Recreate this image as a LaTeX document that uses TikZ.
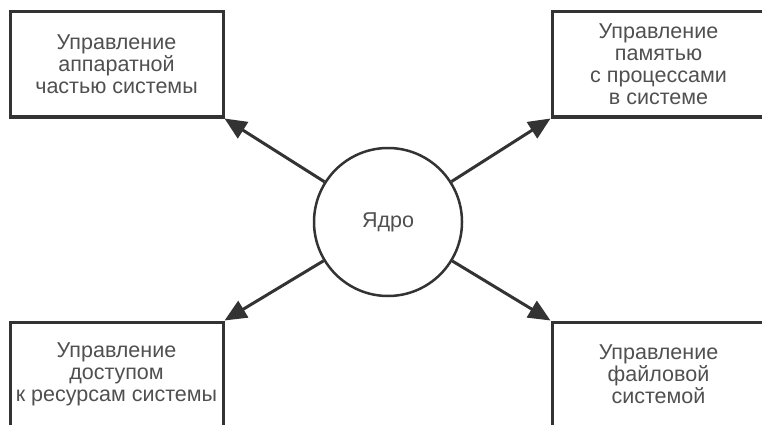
\documentclass[tikz,border=0pt]{standalone}
\usepackage{fontspec}
\setmainfont{Liberation Sans}
\usetikzlibrary{arrows.meta}
\definecolor{linec}{HTML}{333333}
\definecolor{textc}{HTML}{505050}
\begin{document}
\begin{tikzpicture}[x=1pt,y=-1pt,
  box/.style={draw=linec, line width=3pt, minimum width=213pt, minimum height=105pt,
    inner sep=0pt, align=center, text=textc, font=\fontsize{21.5}{22}\selectfont},
  core/.style={circle, draw=linec, line width=2.5pt, minimum size=148pt, inner sep=0pt,
    text=textc, font=\fontsize{21.5}{22}\selectfont},
  arr/.style={draw=linec, line width=3pt, -{Triangle[length=22pt,width=19pt]}}]
\useasboundingbox (0,0) rectangle (762,425);
\fill[white] (0,0) rectangle (762,425);
\clip (0,0) rectangle (762,425);
\node[box] (tl) at (116.5,64.5) {Управление\\аппаратной\\частью системы};
\node[box] (tr) at (658.5,64.5) {Управление\\памятью\\с процессами\\в системе};
\node[box] (bl) at (116.5,374.5) {Управление\\доступом\\к ресурсам системы};
\node[box] (br) at (658.5,374.5) {Управление\\файловой\\системой};
\node[core] (k) at (388,222) {Ядро};
\draw[arr] (k) -- (tl.south east);
\draw[arr] (k) -- (tr.south west);
\draw[arr] (k) -- (bl.north east);
\draw[arr] (k) -- (br.north west);
\end{tikzpicture}
\end{document}
